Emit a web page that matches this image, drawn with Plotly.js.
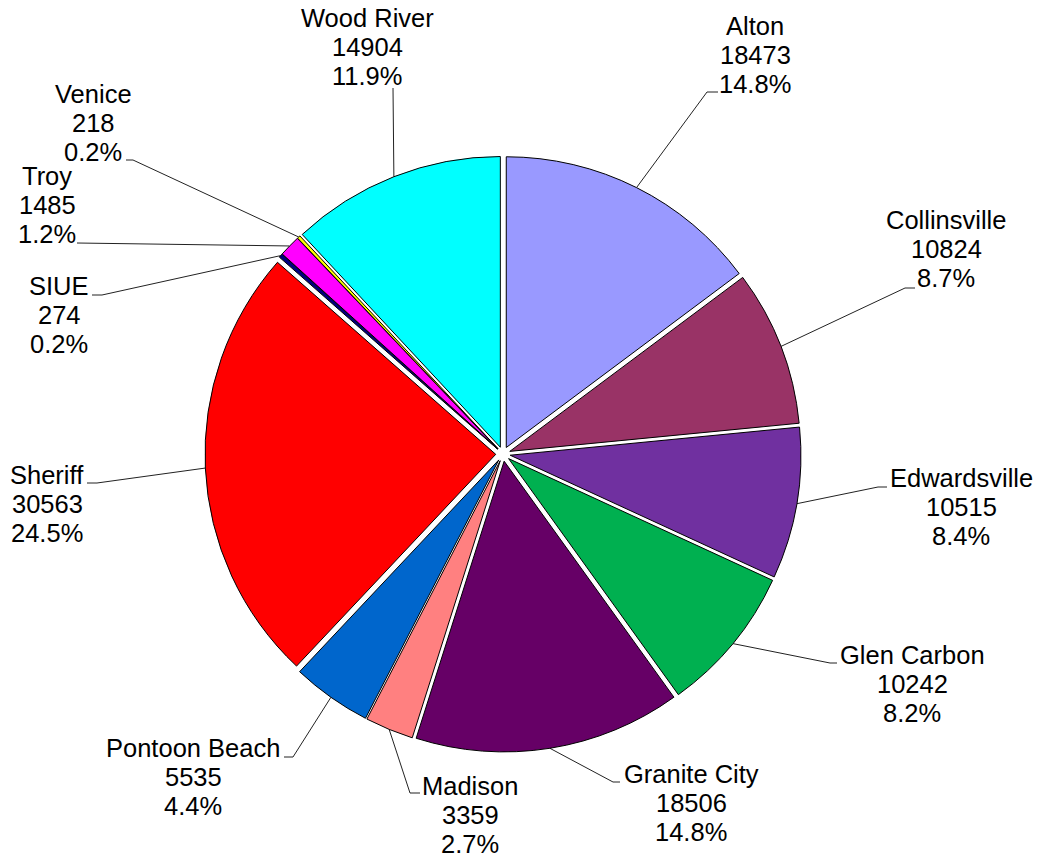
<!DOCTYPE html>
<html>
<head>
<meta charset="utf-8">
<script src="https://cdn.plot.ly/plotly-3.0.1.min.js"></script>
<style>html,body{margin:0;padding:0;background:#fff;}#chart{width:1041px;height:858px;}</style>
</head>
<body>
<div id="chart"></div>
<script>
// ---- data ----
var categories = ["Alton","Collinsville","Edwardsville","Glen Carbon","Granite City","Madison","Pontoon Beach","Sheriff","SIUE","Troy","Venice","Wood River"];
var values = [18473,10824,10515,10242,18506,3359,5535,30563,274,1485,218,14904];
var colors = ["#9999FF","#993366","#7030A0","#00B050","#660066","#FF8080","#0066CC","#FF0000","#000080","#FF00FF","#FFFF00","#00FFFF"];

// ---- layout constants (pixels) ----
var W = 1041, H = 858;
var CX = 503, CY = 454;       // pie centre
var OUTER = 298;              // radius incl. pull
var PULL = 0.025;

// label block centres (middle line) and leader elbows [x,y, endX]
var labelPos = [
  [755, 55], [946, 249], [961, 507], [912, 684], [691, 803], [470, 815],
  [193, 777], [47, 504], [59, 315], [47, 205], [93, 123], [367, 47]
];
var elbows = [
  [707, 92, 718], [905, 288, 915], [878, 487, 887], [830, 663, 837], [613, 782, 620], [410, 793, 420],
  [293, 757, 284], [97, 483, 87], [102, 295, 92], [80, 243, 77], [133, 160, 126], [393, 88, 393]
];
var LINE_H = 28.7;
var FONT = {family: "Liberation Sans, Arial, sans-serif", size: 25.5, color: "#000"};

var total = values.reduce(function(a, b){ return a + b; }, 0);

// pie trace
var pie = {
  type: "pie",
  labels: categories,
  values: values,
  sort: false,
  direction: "clockwise",
  rotation: 0,
  pull: values.map(function(){ return PULL; }),
  marker: {colors: colors, line: {color: "#000", width: 1}},
  textinfo: "none",
  hoverinfo: "skip",
  showlegend: false,
  domain: {
    x: [(CX - OUTER) / W, (CX + OUTER) / W],
    y: [(H - CY - OUTER) / H, (H - CY + OUTER) / H]
  }
};

// leader lines computed from slice mid-angles
var lx = [], ly = [];
var cum = 0;
var annotations = [];
for (var i = 0; i < values.length; i++) {
  var mid = (cum + values[i] / 2) / total * 2 * Math.PI;
  cum += values[i];
  var rx = CX + OUTER * Math.sin(mid);
  var ry = CY - OUTER * Math.cos(mid);
  lx.push(rx, elbows[i][0], elbows[i][2], null);
  ly.push(ry, elbows[i][1], elbows[i][1], null);
  var pct = (values[i] / total * 100).toFixed(1) + "%";
  var lines = [categories[i], String(values[i]), pct];
  for (var k = 0; k < 3; k++) {
    annotations.push({
      x: labelPos[i][0], y: labelPos[i][1] + (k - 1) * LINE_H,
      xref: "x", yref: "y", text: lines[k], showarrow: false,
      xanchor: "center", yanchor: "middle", font: FONT
    });
  }
}

var leaders = {
  type: "scatter", mode: "lines", x: lx, y: ly,
  line: {color: "#222222", width: 1}, hoverinfo: "skip", showlegend: false,
  connectgaps: false
};

var layout = {
  width: W, height: H,
  margin: {l: 0, r: 0, t: 0, b: 0},
  paper_bgcolor: "#fff", plot_bgcolor: "rgba(0,0,0,0)",
  showlegend: false,
  xaxis: {range: [0, W], visible: false, fixedrange: true, domain: [0, 1]},
  yaxis: {range: [H, 0], visible: false, fixedrange: true, domain: [0, 1]},
  annotations: annotations
};

Plotly.newPlot("chart", [pie, leaders], layout, {displayModeBar: false, staticPlot: true});
</script>
</body>
</html>
